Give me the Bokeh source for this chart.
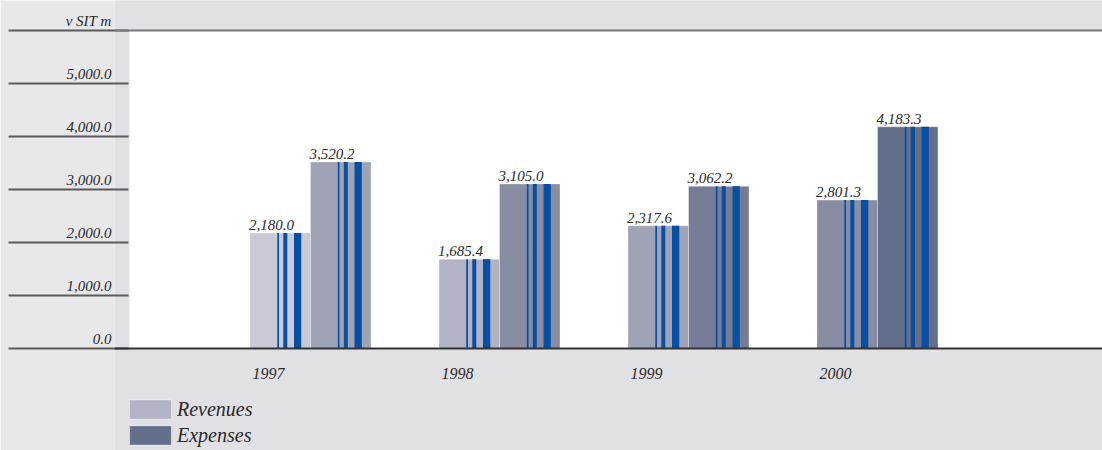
from bokeh.plotting import figure
from bokeh.models import (Range1d, FixedTicker, Span, BoxAnnotation,
                          ColumnDataSource, Legend, LegendItem, LinearAxis)
from bokeh.transform import dodge
from bokeh.core.properties import value
from bokeh.embed import file_html
from bokeh.resources import INLINE

# ---- data ----
years = ["1997", "1998", "1999", "2000"]
revenues = [2180.0, 1685.4, 2317.6, 2801.3]
expenses = [3520.2, 3105.0, 3062.2, 4183.3]
rev_colors = ["#c9cad5", "#b1b3c4", "#a0a3b6", "#898da3"]
exp_colors = ["#a0a3b6", "#898da3", "#767c95", "#626e8a"]
y_ticks = [0, 1000, 2000, 3000, 4000, 5000, 6000]
unit_label = "v SIT m"
series_names = ["Revenues", "Expenses"]

# ---- layout constants ----
W, H = 1102, 450
LEFT = 114
ZERO_Y = 348
PX_PER_1000 = 53.0
GROUP_PX = 189.0
PX = 1.0 / GROUP_PX
HALF = 30.25 * PX
STRIPES = [(28.15, 1.7), (35.3, 4.0), (47.65, 7.3)]  # (px from bar left, px width)
STRIPE_COLOR = "#0650a3"
FONT = "Liberation Serif"
TXT = "#2a2a2a"

x_start = 1 - (310 - LEFT) * PX
x_end = x_start + (W - LEFT) * PX
y_top = ZERO_Y / PX_PER_1000 * 1000
y_bottom = -(H - ZERO_Y) / PX_PER_1000 * 1000

p = figure(width=W, height=H, x_range=Range1d(x_start, x_end), y_range=Range1d(y_bottom, y_top),
           output_backend="svg", toolbar_location=None,
           min_border_left=LEFT, min_border_right=0, min_border_top=0, min_border_bottom=0,
           x_axis_location=None, y_axis_location=None)
p.outline_line_color = None
p.grid.grid_line_color = None
p.background_fill_color = "#e1e0e5"
p.border_fill_color = "#e8e8eb"

p.add_layout(BoxAnnotation(left=x_start + (129 - LEFT) * PX, bottom=0, top=y_ticks[-1],
                           fill_color="white", fill_alpha=1, line_color=None, level="underlay"))

src = ColumnDataSource(dict(
    g=[i + 1 for i in range(len(years))],
    year=years, rev=revenues, exp=expenses,
    rev_color=rev_colors, exp_color=exp_colors,
    rev_label=[f"{v:,.1f}" for v in revenues],
    exp_label=[f"{v:,.1f}" for v in expenses],
))

renderers = {}
for col, sign in (("rev", -1), ("exp", 1)):
    center = sign * HALF
    r = p.vbar(x=dodge("g", center, range=p.x_range), top=col, bottom=0, width=2 * HALF,
               fill_color=col + "_color", line_color="white", line_alpha=0.35, line_width=1,
               source=src)
    renderers[col] = r
    for off, w in STRIPES:
        p.vbar(x=dodge("g", center - HALF + off * PX, range=p.x_range), top=col, bottom=0,
               width=w * PX, fill_color=STRIPE_COLOR, line_color=None, source=src)
    p.text(x=dodge("g", center - HALF, range=p.x_range), y=col, text=col + "_label", source=src,
           x_offset=-1, y_offset=-8, text_align="left", text_baseline="middle",
           text_font=value(FONT), text_font_style="italic", text_font_size="15px",
           text_color=TXT)

p.text(x=dodge("g", -42 * PX, range=p.x_range), y=0, text="year", source=src,
       y_offset=25, text_align="center", text_baseline="middle",
       text_font=value(FONT), text_font_style="italic", text_font_size="16px", text_color=TXT)

p.add_layout(Span(location=0, dimension="width", line_color="#333333", line_width=2))
p.add_layout(Span(location=y_ticks[-1], dimension="width", line_color="#7a7a7a", line_width=2))

# tick labels sit just above their rule: a trailing empty line lifts each label
labels = {t: f"{t:,.1f}\n" for t in y_ticks[:-1]}
labels[y_ticks[-1]] = unit_label + "\n"
ax = LinearAxis(ticker=FixedTicker(ticks=y_ticks),
                major_label_overrides=labels,
                axis_line_color=None, major_tick_out=106, major_tick_in=14,
                major_tick_line_color="#5a5a5a", major_tick_line_width=2,
                minor_tick_out=0, minor_tick_in=0, major_label_standoff=-103,
                major_label_text_font=FONT, major_label_text_font_style="italic",
                major_label_text_font_size="15px", major_label_text_color=TXT)
p.add_layout(ax, "left")

legend = Legend(items=[LegendItem(label=series_names[0], renderers=[renderers["rev"]], index=1),
                       LegendItem(label=series_names[1], renderers=[renderers["exp"]], index=3)],
                location=(10, 3), orientation="vertical", padding=0, margin=0, spacing=2,
                glyph_width=52, glyph_height=24, label_height=24, label_standoff=1,
                label_text_font=FONT, label_text_font_style="italic", label_text_font_size="20px",
                label_text_color=TXT, background_fill_alpha=0, border_line_color=None)
p.add_layout(legend)

open("out.html", "w").write(file_html(p, INLINE))
